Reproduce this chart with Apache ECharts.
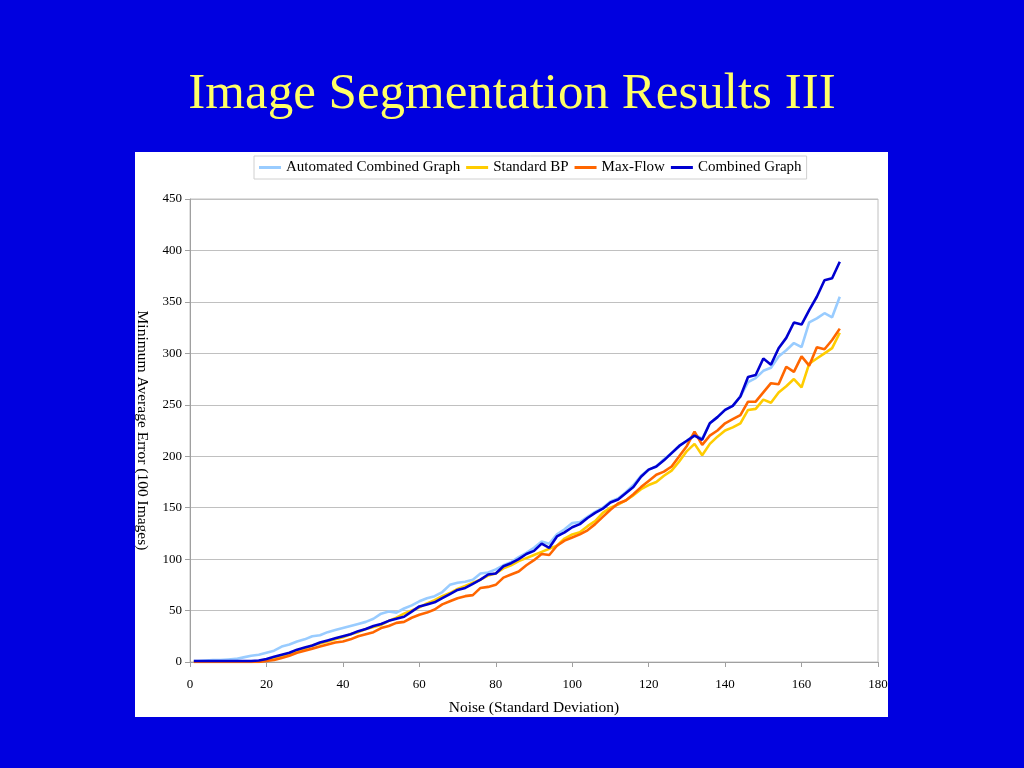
<!DOCTYPE html>
<html>
<head>
<meta charset="utf-8">
<script src="https://cdn.jsdelivr.net/npm/echarts@6/dist/echarts.min.js"></script>
<style>
html,body{margin:0;padding:0;background:#0000E0;}
#c{width:1024px;height:768px;}
</style>
</head>
<body>
<div id="c"></div>
<script>
const noise = [1,2,4,6,8,10,12,14,16,18,20,22,24,26,28,30,32,34,36,38,40,42,44,46,48,50,52,54,56,58,60,62,64,66,68,70,72,74,76,78,80,82,84,86,88,90,92,94,96,98,100,102,104,106,108,110,112,114,116,118,120,122,124,126,128,130,132,134,136,138,140,142,144,146,148,150,152,154,156,158,160,162,164,166,168,170];

const automatedCombined = [1,1,1.5,2,2,2.5,3,4.5,6,7,9,11,15,17,20,22,25,26,29,31,33,35,37,39,42,47,49,48,52,55,59,62,64,68,75,77,78,80,86,87,90,94,97,102,106,111,117,115,124,129,135,136,141,146,150,156,159,165,172,181,187,190,197,203,210,215,221,217,232,238,245,249,258,272,276,283,286,297,303,310,306,330,334,339,335,355];

const standardBP = [0,0,0,0,0,0,0,0,0,0.5,2,4,6,8,11,13,16,18,20,22,24,27,29,32,34,36,40,43,47,50,53,57,60,64,67,71,74,77,80,84,86,91,94,98,101,104,107,110,113,120,124,126,132,137,145,150,153,157,162,168,172,175,181,186,195,205,212,201,212,219,225,228,232,245,246,255,252,262,268,275,267,290,295,300,305,320];

const maxFlow = [0,0,0,0,0,0,0,0,0,0,1,2,4,6,9,11,13,15,17,19,20,22,25,27,29,33,35,38,39,43,46,48,51,56,59,62,64,65,72,73,75,82,85,88,94,99,105,104,113,118,121,124,128,134,141,148,154,157,163,170,176,182,185,190,200,210,224,211,220,225,232,236,240,253,253,262,271,270,287,282,297,288,306,304,313,324];

const combinedGraph = [1,1,1,1,1,1,1,1,1,1.5,3,5,7,9,12,14,16,19,21,23,25,27,30,32,35,37,40,42,44,49,54,56,58,62,66,70,72,76,80,85,86,93,96,100,105,108,115,111,122,126,131,134,140,145,149,155,158,164,170,180,187,190,196,203,210,215,220,216,232,238,245,249,258,277,279,295,289,305,315,330,328,342,355,371,373,389];

const seriesNames = ['Automated Combined Graph','Standard BP','Max-Flow','Combined Graph'];
const seriesData = [automatedCombined, standardBP, maxFlow, combinedGraph];
const seriesColors = ['#99CCFF','#FFCC00','#FF6600','#0000D0'];

const chart = echarts.init(document.getElementById('c'));
const font = '"Liberation Serif","Times New Roman",serif';

chart.setOption({
  backgroundColor: '#0000E0',
  animation: false,
  title: {
    text: 'Image Segmentation Results III',
    left: 'center',
    top: 64,
    textStyle: {color:'#FFFF66', fontFamily: font, fontSize: 51, fontWeight: 'normal'}
  },
  graphic: [{
    type: 'rect',
    shape: {x:135, y:152, width:753, height:565},
    style: {fill:'#FFFFFF'},
    z: -10
  }],
  legend: {
    top: 156,
    left: 254,
    itemWidth: 22,
    itemHeight: 3,
    itemGap: 6,
    padding: [4,5],
    borderColor: '#D0D0D0',
    borderWidth: 1,
    icon: 'rect',
    textStyle: {fontFamily: font, fontSize: 15, color:'#000'},
    data: seriesNames
  },
  grid: {left:190, top:199, width:688, height:463, show:true, borderColor:'#C0C0C0', borderWidth:1, containLabel:false},
  xAxis: {
    type: 'value', min: 0, max: 180, interval: 20,
    name: 'Noise (Standard Deviation)',
    nameLocation: 'middle', nameGap: 38,
    nameTextStyle: {fontFamily: font, fontSize: 15.5, color:'#000'},
    axisLine: {show:true, lineStyle:{color:'#A0A0A0'}},
    axisTick: {show:true, length:5, lineStyle:{color:'#A0A0A0'}},
    axisLabel: {fontFamily: font, fontSize: 13, color:'#000', margin: 16},
    splitLine: {show:false}
  },
  yAxis: {
    type: 'value', min: 0, max: 450, interval: 50,
    name: 'Minimum Average Error (100 Images)',
    nameLocation: 'middle', nameGap: 40, nameRotate: -90,
    nameTextStyle: {fontFamily: font, fontSize: 15.5, color:'#000'},
    axisLine: {show:true, lineStyle:{color:'#A0A0A0'}},
    axisTick: {show:true, length:5, lineStyle:{color:'#A0A0A0'}},
    axisLabel: {fontFamily: font, fontSize: 13, color:'#000', margin: 8},
    splitLine: {show:true, lineStyle:{color:'#C0C0C0', width:1}}
  },
  series: seriesNames.map((n,i)=>({
    name: n,
    type: 'line',
    data: noise.map((x,j)=>[x, seriesData[i][j]]),
    showSymbol: false,
    symbol: 'none',
    lineStyle: {color: seriesColors[i], width: 2.6},
    itemStyle: {color: seriesColors[i]}
  }))
});
</script>
</body>
</html>
